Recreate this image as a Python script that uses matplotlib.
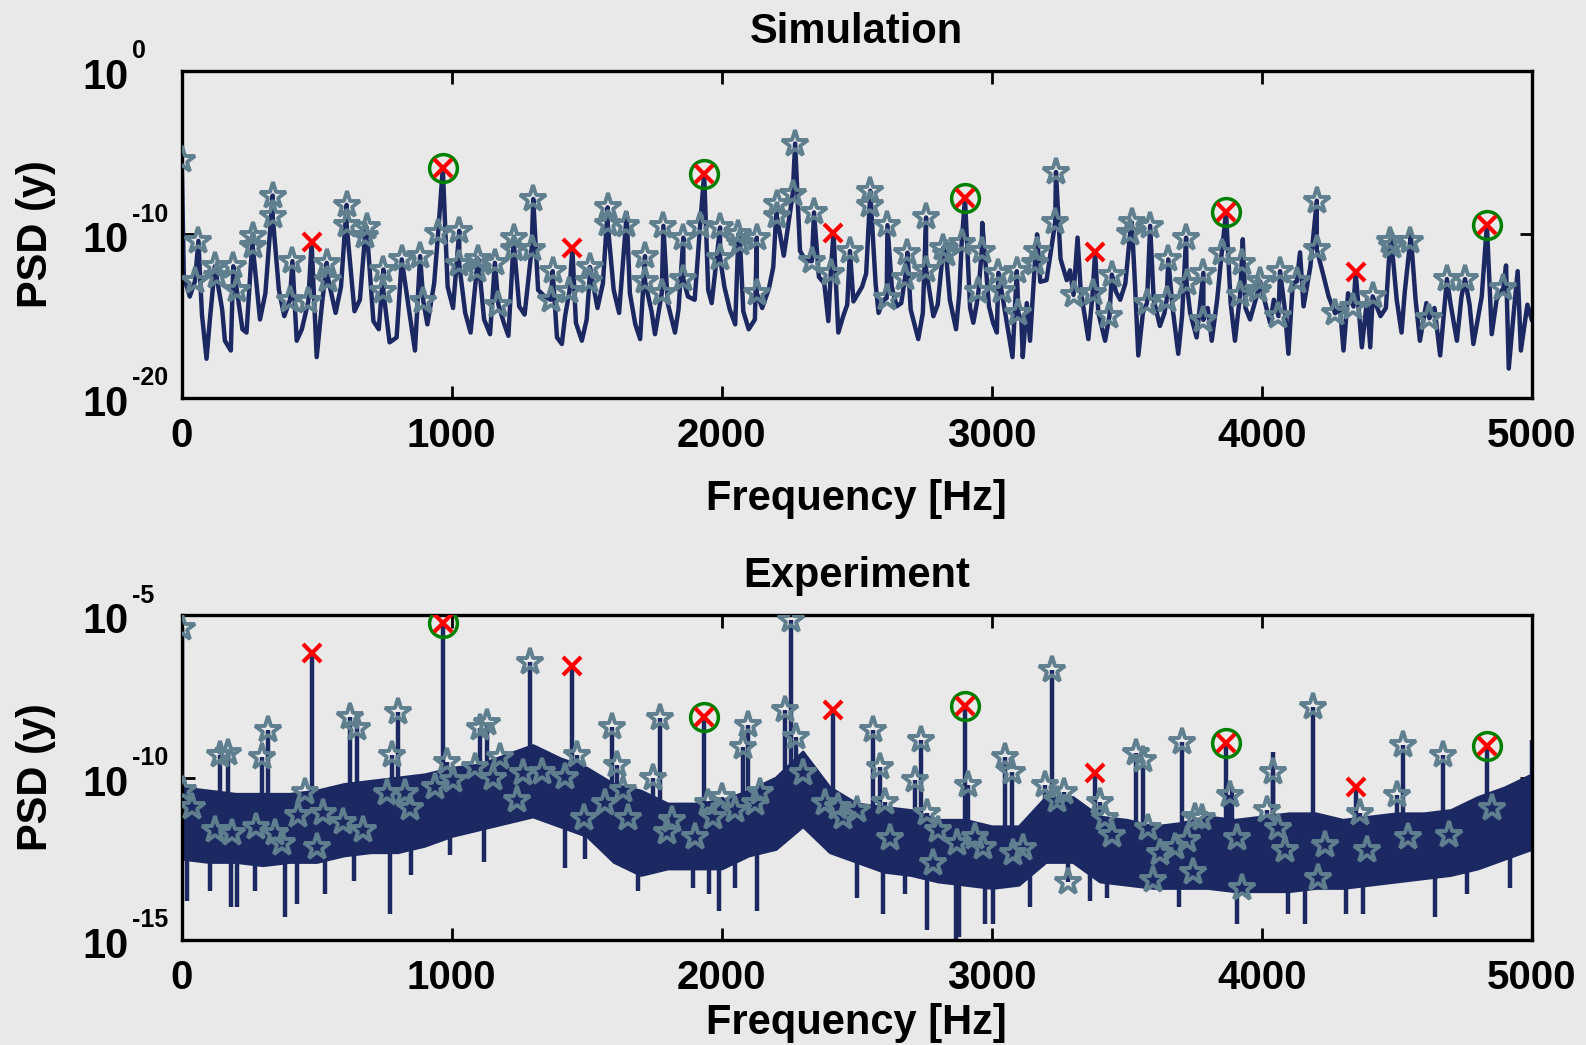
import numpy as np
import matplotlib
matplotlib.use('Agg')
import matplotlib.pyplot as plt
from matplotlib.ticker import NullLocator

plt.rcParams['font.family'] = ['Liberation Sans', 'DejaVu Sans']
plt.rcParams['font.weight'] = 'bold'

# ---------------------------------------------------------------
# data, all PSD values as log10 exponents
# ---------------------------------------------------------------
freq_ticks = [0, 1000, 2000, 3000, 4000, 5000]

# harmonics (red x), every second one circled in green
harm_circled = [False, True, False, True, False, True, False, True, False, True]

# Simulation: detected peaks (stars)
sim_star_f = [0, 49, 62, 123, 129, 191, 204, 263, 263, 337, 337, 401, 410, 469, 537, 543,
              611, 611, 679, 685, 747, 747, 815, 883, 895, 950, 1028, 1028, 1093, 1099,
              1160, 1173, 1230, 1232, 1296, 1302, 1367, 1374, 1436, 1510, 1512, 1578,
              1578, 1645, 1716, 1716, 1778, 1784, 1858, 1858, 1920, 1994, 1994, 2062,
              2068, 2130, 2130, 2204, 2204, 2263, 2272, 2334, 2342, 2404, 2475, 2548,
              2550, 2611, 2614, 2679, 2688, 2757, 2757, 2821, 2831, 2889, 2951, 2963,
              3025, 3037, 3093, 3099, 3160, 3167, 3235, 3238, 3303, 3374, 3436, 3445,
              3513, 3519, 3575, 3587, 3648, 3654, 3720, 3722, 3784, 3784, 3852, 3920,
              3926, 3988, 3994, 4062, 4068, 4130, 4204, 4204, 4272, 4340, 4411, 4476,
              4482, 4550, 4621, 4686, 4753, 4895]
sim_star_e = [-5.48, -12.87, -10.4, -11.95, -12.56, -11.95, -13.38, -10.1, -10.7, -7.63,
              -8.87, -14.0, -11.64, -14.1, -11.74, -12.77, -8.2, -9.44, -10.1, -9.58,
              -12.15, -13.49, -11.53, -11.33, -14.1, -9.89, -9.78, -11.84, -12.15, -11.53,
              -11.74, -14.3, -10.25, -10.9, -10.92, -7.84, -14.0, -12.25, -13.49, -12.87,
              -12.0, -8.35, -9.38, -9.44, -11.33, -12.87, -13.59, -9.48, -10.2, -12.73,
              -9.48, -9.58, -11.43, -9.99, -10.5, -10.2, -13.59, -8.15, -8.87, -7.53,
              -4.45, -11.64, -8.66, -12.35, -11.02, -8.2, -7.33, -13.9, -9.44, -12.66,
              -11.12, -8.97, -12.15, -10.81, -11.2, -10.5, -13.49, -11.02, -12.35, -13.49,
              -12.25, -14.82, -11.74, -11.02, -9.27, -6.19, -13.7, -13.59, -15.0, -12.46,
              -9.89, -9.27, -14.2, -9.48, -14.0, -11.53, -10.2, -12.97, -12.35, -15.23,
              -11.12, -13.69, -11.74, -13.38, -12.87, -15.0, -12.25, -12.87, -7.94, -10.92,
              -14.82, -14.41, -13.79, -10.4, -10.7, -10.4, -15.13, -12.73, -12.73, -13.28]

sim_harm_f = [481, 967, 1447, 1935, 2414, 2901, 3383, 3868, 4348, 4834]
sim_harm_e = [-10.47, -5.95, -10.86, -6.3, -9.89, -7.79, -11.07, -8.66, -12.32, -9.42]

# Simulation: remaining points of the spectrum (valleys and unmarked spikes)
sim_line_f = [8, 30, 75, 92, 105, 150, 160, 182, 225, 240, 290, 310, 360, 380, 426, 445,
              500, 520, 570, 590, 640, 660, 710, 730, 770, 796, 840, 864, 910, 935, 985,
              1005, 1050, 1070, 1120, 1142, 1195, 1210, 1250, 1270, 1320, 1345, 1390,
              1408, 1420, 1460, 1482, 1500, 1540, 1560, 1600, 1620, 1648, 1660, 1680,
              1698, 1740, 1753, 1800, 1827, 1840, 1875, 1900, 1950, 1963, 2010, 2030,
              2050, 2080, 2100, 2123, 2150, 2175, 2191, 2230, 2290, 2310, 2360, 2380,
              2395, 2432, 2450, 2465, 2488, 2520, 2535, 2570, 2581, 2600, 2630, 2648,
              2665, 2700, 2728, 2745, 2784, 2800, 2845, 2868, 2880, 2920, 2932, 2945,
              2965, 2990, 3005, 3019, 3050, 3065, 3077, 3110, 3115, 3130, 3142, 3168,
              3180, 3203, 3215, 3255, 3278, 3290, 3318, 3330, 3340, 3358, 3395, 3420,
              3460, 3476, 3495, 3530, 3543, 3560, 3600, 3623, 3640, 3670, 3691, 3705,
              3735, 3759, 3800, 3815, 3835, 3885, 3901, 3930, 3940, 3957, 4010, 4031,
              4045, 4085, 4099, 4115, 4142, 4155, 4180, 4230, 4248, 4290, 4303, 4320,
              4371, 4390, 4402, 4440, 4460, 4478, 4500, 4518, 4530, 4552, 4570, 4586,
              4610, 4640, 4661, 4700, 4723, 4740, 4770, 4784, 4815, 4852, 4870, 4905,
              4915, 4935, 4948, 4960, 4984, 5000]
sim_line_e = [-12.6, -13.8, -14.9, -17.6, -15.1, -14.6, -16.5, -17.1, -15.8, -16.0, -15.2,
              -13.6, -13.4, -15.0, -16.5, -15.8, -17.5, -14.2, -14.8, -13.2, -14.7, -14.0,
              -15.3, -15.8, -16.6, -16.3, -14.4, -17.1, -15.5, -13.0, -13.2, -14.5, -14.8,
              -16.0, -15.2, -16.1, -15.5, -16.2, -14.4, -14.9, -13.4, -13.8, -16.3, -16.7,
              -15.0, -15.4, -16.5, -15.2, -14.5, -13.0, -13.4, -14.8, -8.7, -13.6, -15.5,
              -16.4, -14.7, -16.1, -14.2, -16.0, -14.6, -13.8, -14.0, -13.4, -14.2, -13.2,
              -14.6, -15.5, -14.7, -15.8, -15.2, -14.5, -13.3, -12.0, -11.3, -11.0, -11.6,
              -12.6, -13.0, -15.3, -16.0, -15.0, -14.3, -14.1, -13.2, -12.4, -13.0, -14.8,
              -14.0, -13.2, -14.4, -14.2, -14.6, -16.4, -14.8, -15.0, -14.3, -14.0, -15.8,
              -13.6, -14.5, -15.4, -14.2, -9.3, -14.4, -15.4, -16.0, -14.8, -16.3, -17.5,
              -15.3, -17.5, -14.2, -16.5, -10.0, -12.9, -12.8, -11.5, -11.5, -12.8, -12.2,
              -10.2, -13.5, -14.5, -16.4, -14.8, -16.5, -13.5, -14.0, -13.0, -12.8, -17.4,
              -14.8, -14.0, -15.6, -14.8, -14.5, -17.3, -15.0, -14.8, -16.3, -14.5, -16.5,
              -14.0, -14.2, -16.5, -10.3, -14.5, -15.2, -14.0, -15.4, -14.0, -14.5, -17.3,
              -13.0, -11.1, -14.4, -12.0, -12.6, -13.8, -14.5, -17.1, -13.6, -16.9, -14.0,
              -16.9, -15.0, -14.5, -9.8, -14.0, -16.0, -13.5, -10.0, -14.0, -16.5, -14.2,
              -14.5, -17.4, -14.3, -16.5, -13.8, -14.3, -16.7, -13.8, -16.1, -14.0, -11.9,
              -18.2, -14.5, -12.25, -17.1, -14.3, -15.2]

# Experiment: detected peaks (stars)
exp_star_f = [0, 6, 37, 123, 142, 173, 185, 275, 296, 321, 346, 370, 432, 457, 500, 525,
              599, 623, 648, 673, 759, 778, 802, 827, 845, 938, 981, 1006, 1086, 1105,
              1130, 1154, 1179, 1241, 1265, 1290, 1333, 1420, 1463, 1490, 1568, 1593,
              1611, 1636, 1654, 1747, 1772, 1796, 1815, 1901, 1951, 1969, 2000, 2049,
              2080, 2099, 2124, 2142, 2235, 2257, 2275, 2300, 2383, 2432, 2451, 2500,
              2560, 2587, 2605, 2624, 2716, 2737, 2759, 2784, 2802, 2870, 2914, 2938,
              2969, 3049, 3074, 3080, 3117, 3198, 3222, 3241, 3266, 3284, 3401, 3420,
              3445, 3535, 3560, 3580, 3599, 3624, 3679, 3704, 3723, 3747, 3753, 3778,
              3883, 3908, 3926, 4019, 4041, 4062, 4087, 4191, 4210, 4235, 4364, 4389,
              4500, 4525, 4543, 4673, 4695, 4852]
exp_star_e = [-5.41, -10.38, -10.9, -11.62, -9.31, -9.26, -11.72, -11.51, -9.36, -8.54,
              -11.72, -12.03, -11.15, -10.44, -12.13, -11.1, -11.36, -8.13, -8.49, -11.62,
              -10.49, -9.31, -7.97, -10.49, -10.95, -10.28, -9.51, -10.08, -9.67, -8.49,
              -8.33, -10.03, -9.36, -10.69, -9.87, -6.44, -9.82, -9.97, -9.31, -11.26,
              -10.79, -8.44, -9.62, -10.38, -11.26, -10.03, -8.18, -11.67, -11.31, -11.82,
              -10.79, -11.21, -10.59, -11.0, -9.05, -8.38, -10.79, -10.44, -7.92, -5.15,
              -8.74, -9.87, -10.79, -10.9, -11.2, -11.0, -8.54, -9.67, -10.74, -11.87,
              -10.08, -8.85, -11.1, -12.64, -11.62, -12.03, -10.23, -11.82, -12.13, -9.36,
              -9.82, -12.33, -12.18, -10.23, -6.69, -10.69, -10.44, -13.21, -10.74, -11.26,
              -11.77, -9.26, -9.46, -11.56, -13.15, -12.33, -12.13, -8.9, -11.92, -12.9,
              -11.2, -11.26, -10.54, -11.87, -13.41, -11.0, -9.82, -11.56, -12.23, -7.82,
              -13.1, -12.08, -11.1, -12.23, -10.54, -9.0, -11.82, -9.31, -11.77, -10.95]

exp_harm_f = [481, 967, 1447, 1935, 2414, 2901, 3383, 3868, 4348, 4834]
exp_harm_e = [-6.18, -5.24, -6.56, -8.13, -7.92, -7.8, -9.87, -8.93, -10.3, -9.02]

# Experiment: upper / lower edge of the dense noise floor, every 100 Hz
exp_band_f = list(range(0, 5001, 100))
exp_band_hi = [-10.3, -10.4, -10.5, -10.5, -10.5, -10.4, -10.2, -10.1, -10.0, -9.9,
               -9.7, -9.6, -9.3, -9.0, -9.4, -9.7, -10.2, -10.4, -10.8, -10.8,
               -10.7, -10.4, -10.0, -9.2, -10.3, -10.8, -10.9, -11.0, -11.3, -11.3,
               -11.5, -11.5, -10.6, -10.6, -11.2, -11.3, -11.5, -11.4, -11.2, -11.3,
               -11.2, -11.1, -11.1, -11.3, -11.2, -11.1, -11.1, -11.0, -10.6, -10.3, -9.9]
exp_band_lo = [-12.5, -12.6, -12.6, -12.7, -12.6, -12.6, -12.4, -12.3, -12.3, -12.1,
               -11.8, -11.6, -11.4, -11.2, -11.5, -11.8, -12.6, -13.0, -12.8, -12.8,
               -12.8, -12.4, -12.2, -11.5, -12.3, -12.6, -12.9, -13.0, -13.2, -13.3,
               -13.4, -13.3, -12.6, -12.6, -13.2, -13.3, -13.4, -13.4, -13.4, -13.5,
               -13.5, -13.5, -13.4, -13.4, -13.3, -13.2, -13.1, -13.0, -12.8, -12.5, -12.2]

# Experiment: deep drops below the noise floor and unmarked spikes above it
exp_dip_f = [18, 105, 183, 204, 272, 383, 426, 531, 640, 771, 850, 993, 1120, 1420, 1495,
             1690, 1893, 1953, 1991, 2050, 2132, 2500, 2599, 2680, 2759, 2868, 2880, 2975,
             3006, 3142, 3364, 3426, 3695, 3908, 4099, 4161, 4312, 4377, 4642, 4760, 4920]
exp_dip_e = [-13.8, -13.5, -14.0, -14.0, -13.5, -14.3, -13.9, -13.6, -13.2, -14.2, -13.0,
             -12.4, -12.6, -12.8, -12.5, -13.5, -13.4, -13.6, -14.1, -13.4, -14.1, -13.7,
             -14.2, -13.6, -14.7, -15.1, -14.9, -14.5, -14.5, -14.0, -13.8, -13.7, -14.0,
             -14.5, -14.2, -14.5, -14.2, -14.2, -14.3, -13.6, -13.4]
exp_spike_f = [3890, 4043, 5000]
exp_spike_e = [-10.3, -9.2, -8.85]

# ---------------------------------------------------------------
line_col = '#1b2862'
star_col = '#5f7f8f'
bg_col = '#e9e9e9'


def style_axes(ax, title, ylim, yticks, labelpad):
    ax.set_facecolor(bg_col)
    ax.set_xlim(0, 5000)
    ax.set_yscale('log')
    ax.set_ylim(10.0 ** ylim[0], 10.0 ** ylim[1])
    ax.set_yticks([10.0 ** e for e in yticks])
    ax.yaxis.set_minor_locator(NullLocator())
    ax.set_xticks(freq_ticks)
    ax.set_xticklabels([str(f) for f in freq_ticks])
    ax.tick_params(direction='in', length=9, width=2, top=True, right=True,
                   labelsize=29, pad=14, labelleft=False)
    for sp in ax.spines.values():
        sp.set_linewidth(2.4)
    ax.set_title(title, fontsize=30, fontweight='bold', pad=20)
    ax.set_xlabel('Frequency [Hz]', fontsize=30, fontweight='bold', labelpad=labelpad)
    # MATLAB style 10^n tick labels
    tr = ax.get_yaxis_transform()
    for e in yticks:
        ax.annotate('10', xy=(0, 10.0 ** e), xycoords=tr, xytext=(-38, -13),
                    textcoords='offset points', ha='right', va='baseline',
                    fontsize=30, fontweight='bold', annotation_clip=False)
        ax.annotate(str(e), xy=(0, 10.0 ** e), xycoords=tr, xytext=(-36, 9),
                    textcoords='offset points', ha='left', va='baseline',
                    fontsize=18, fontweight='bold', annotation_clip=False)


def draw_markers(ax, star_f, star_e, harm_f, harm_e):
    ax.plot(star_f, 10.0 ** np.array(star_e), ls='none', marker='*', ms=20,
            mfc='none', mec=star_col, mew=2.8, zorder=4)
    circ = np.array(harm_circled)
    hf = np.array(harm_f)
    hv = 10.0 ** np.array(harm_e)
    ax.plot(hf[circ], hv[circ], ls='none', marker='o', ms=20, mfc='none',
            mec='#008000', mew=2.5, zorder=5)
    ax.plot(hf, hv, ls='none', marker='x', ms=13, mec='#ff0000', mew=3, zorder=6)


fig = plt.figure(figsize=(15.86, 10.45), dpi=100, facecolor=bg_col)
ax1 = fig.add_axes([0.11456, 0.61914, 0.85120, 0.31321])
ax2 = fig.add_axes([0.11456, 0.10048, 0.85120, 0.31100])

# Simulation spectrum
f_all = np.array(sim_star_f + sim_harm_f + sim_line_f, dtype=float)
e_all = np.array(sim_star_e + sim_harm_e + sim_line_e)
order = np.argsort(f_all, kind='stable')
ax1.plot(f_all[order], 10.0 ** e_all[order], color=line_col, lw=3.2, zorder=2)
draw_markers(ax1, sim_star_f, sim_star_e, sim_harm_f, sim_harm_e)
style_axes(ax1, 'Simulation', (-20, 0), [0, -10, -20], 17)

# Experiment spectrum
bf = np.array(exp_band_f, dtype=float)
hi = np.array(exp_band_hi)
lo = np.array(exp_band_lo)
ax2.fill_between(bf, 10.0 ** lo, 10.0 ** hi, color=line_col, lw=2, zorder=2)
mid = (hi + lo) / 2
pk_f = np.array(exp_star_f + exp_harm_f + exp_spike_f + exp_dip_f, dtype=float)
pk_e = np.array(exp_star_e + exp_harm_e + exp_spike_e + exp_dip_e)
ax2.vlines(pk_f, 10.0 ** np.interp(pk_f, bf, mid), 10.0 ** pk_e, color=line_col,
           lw=3.2, zorder=2)
draw_markers(ax2, exp_star_f, exp_star_e, exp_harm_f, exp_harm_e)
style_axes(ax2, 'Experiment', (-15, -5), [-5, -10, -15], 4)

for ax in (ax1, ax2):
    pos = ax.get_position()
    fig.text(36 / 1586, pos.y0 + pos.height / 2, 'PSD (y)', rotation=90,
             ha='center', va='center', fontsize=30, fontweight='bold')

fig.savefig('out.png', dpi=100, facecolor=bg_col)
